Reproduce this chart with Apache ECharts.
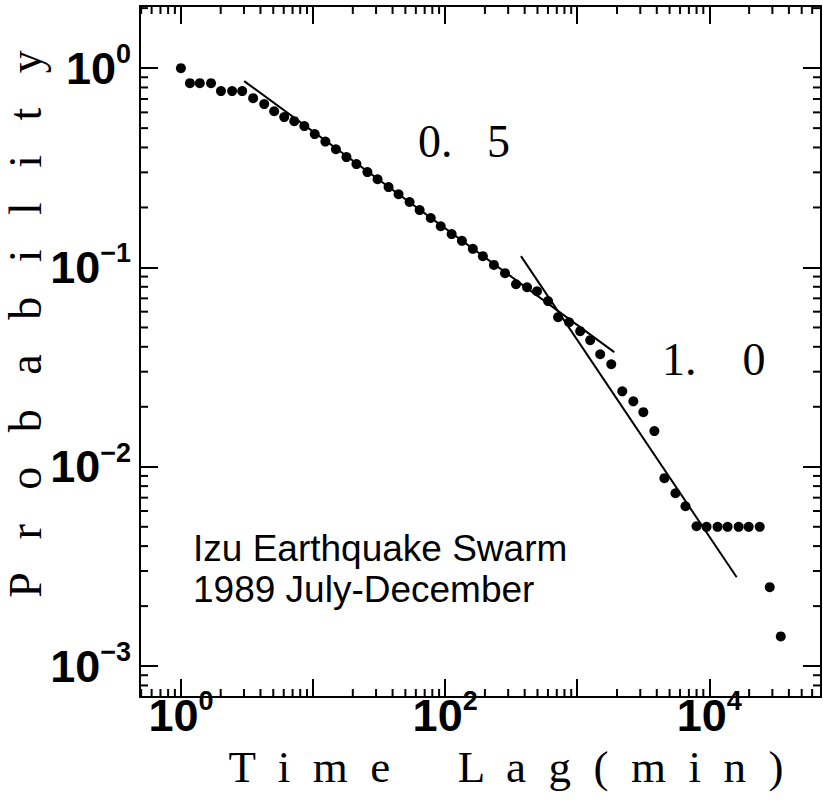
<!DOCTYPE html>
<html><head><meta charset="utf-8">
<script src="https://cdn.jsdelivr.net/npm/echarts@6/dist/echarts.min.js"></script>
<style>html,body{margin:0;padding:0;background:#fff}#c{width:823px;height:803px}</style>
</head><body><div id="c"></div>
<script>
// ---- data ----
const timeLag = [1, 1.17, 1.39, 1.69, 2.01, 2.44, 2.91, 3.52, 4.27, 5.08, 6.05, 7.21, 8.59,
  10.3, 12.4, 14.9, 17.9, 21.3, 25.8, 30.8, 37.3, 44.4, 53.8, 64.1, 77.8, 92.6, 112, 134, 162, 193, 234,
  284, 344, 417, 496, 601, 716, 868, 1052, 1253, 1492, 1809, 2193, 2658, 3165, 3836,
  4568, 5538, 6596, 7993, 9522, 11543, 13748, 16664, 19846, 24058, 28650, 34720];
const probability = [1.0, 0.841, 0.841, 0.841, 0.767, 0.767, 0.767, 0.707, 0.660, 0.608, 0.568, 0.542, 0.512,
  0.467, 0.428, 0.392, 0.358, 0.330, 0.301, 0.277, 0.253, 0.233, 0.213, 0.194, 0.177, 0.161, 0.147, 0.136, 0.124, 0.114, 0.103,
  0.0936, 0.0824, 0.0796, 0.0760, 0.0678, 0.0563, 0.0531, 0.0479, 0.0432, 0.0367, 0.0327, 0.0239, 0.0213, 0.0188, 0.0151,
  0.00877, 0.00737, 0.00634, 0.00503, 0.005, 0.005, 0.005, 0.005, 0.005, 0.005, 0.00249, 0.00141];
const fitHalfT = [3.01, 1905];
const fitHalfP = [0.861, 0.0376];
const fitOneT = [375, 16100];
const fitOneP = [0.114, 0.00279];
const xLabelExponents = [0, 2, 4];
const yLabelExponents = [0, -1, -2, -3];
const slopeLabels = ['0.   5', '1.    0'];
const xName = 'T  i  m  e      L  a  g  (  m  i  n  )';
const yName = 'P   r   o   b   a   b   i   l   i   t   y';
const noteLines = ['Izu Earthquake Swarm', '1989 July-December'];

// ---- layout ----
const X_MIN = 0.49, X_MAX = 70000, Y_MIN = 7e-4, Y_MAX = 2.05;
const MAJOR = 18, MINOR = 8;
const SANS = 'Liberation Sans', SERIF = 'Liberation Serif';

function minorValues(lo, hi) {
  const out = [];
  for (let n = Math.floor(Math.log10(lo)); n <= Math.ceil(Math.log10(hi)); n++) {
    for (let k = 2; k <= 9; k++) {
      const v = k * Math.pow(10, n);
      if (v > lo && v < hi) out.push(v);
    }
  }
  return out;
}
function powLabel(v, allowed) {
  const e = Math.log10(v), r = Math.round(e);
  if (Math.abs(e - r) > 1e-6 || allowed.indexOf(r) < 0) return '';
  return '{b|10}{s|' + (r < 0 ? '\u2212' + (-r) : r) + '}';
}
const rich = {
  b: { fontFamily: SANS, fontSize: 45, fontWeight: 'bold', color: '#000', lineHeight: 36 },
  s: { fontFamily: SANS, fontSize: 27, fontWeight: 'bold', color: '#000', lineHeight: 22, padding: [0, 0, 28, 0] }
};
const lineBlack = { color: '#000', width: 2 };

function axisX(pos, labels) {
  return {
    type: 'log', logBase: 10, min: X_MIN, max: X_MAX, position: pos,
    axisLine: { show: true, onZero: false, lineStyle: lineBlack },
    axisTick: { show: true, inside: true, length: MAJOR, lineStyle: lineBlack },
    minorTick: { show: false }, splitLine: { show: false },
    axisLabel: labels ? {
      show: true, margin: 0, showMinLabel: false, showMaxLabel: false,
      formatter: v => powLabel(v, xLabelExponents), rich: rich
    } : { show: false }
  };
}
function axisY(pos, labels) {
  return {
    type: 'log', logBase: 10, min: Y_MIN, max: Y_MAX, position: pos,
    axisLine: { show: true, onZero: false, lineStyle: lineBlack },
    axisTick: { show: true, inside: true, length: MAJOR, lineStyle: lineBlack },
    minorTick: { show: false }, splitLine: { show: false },
    axisLabel: labels ? {
      show: true, margin: 9, showMinLabel: false, showMaxLabel: false,
      formatter: v => powLabel(v, yLabelExponents), rich: rich
    } : { show: false }
  };
}

const chart = echarts.init(document.getElementById('c'), null, { renderer: 'svg' });
const option = {
  backgroundColor: '#fff',
  animation: false,
  grid: { left: 140, right: 2, top: 6, bottom: 106, containLabel: false },
  xAxis: [axisX('bottom', true), axisX('top', false)],
  yAxis: [axisY('left', true), axisY('right', false)],
  series: [
    {
      type: 'custom', xAxisIndex: 0, yAxisIndex: 0, clip: false, silent: true,
      data: minorValues(X_MIN, X_MAX).map(v => [v, 1]),
      renderItem: (params, api) => {
        const v = api.value(0);
        const b = api.coord([v, Y_MIN]), t = api.coord([v, Y_MAX]);
        return { type: 'group', children: [
          { type: 'line', shape: { x1: b[0], y1: b[1], x2: b[0], y2: b[1] - MINOR }, style: { stroke: '#000', lineWidth: 2 } },
          { type: 'line', shape: { x1: t[0], y1: t[1], x2: t[0], y2: t[1] + MINOR }, style: { stroke: '#000', lineWidth: 2 } }
        ] };
      }
    },
    {
      type: 'custom', xAxisIndex: 0, yAxisIndex: 0, clip: false, silent: true,
      data: minorValues(Y_MIN, Y_MAX).map(v => [1, v]),
      renderItem: (params, api) => {
        const v = api.value(1);
        const l = api.coord([X_MIN, v]), r = api.coord([X_MAX, v]);
        return { type: 'group', children: [
          { type: 'line', shape: { x1: l[0], y1: l[1], x2: l[0] + MINOR, y2: l[1] }, style: { stroke: '#000', lineWidth: 2 } },
          { type: 'line', shape: { x1: r[0], y1: r[1], x2: r[0] - MINOR, y2: r[1] }, style: { stroke: '#000', lineWidth: 2 } }
        ] };
      }
    },
    {
      type: 'line', xAxisIndex: 0, yAxisIndex: 0, symbol: 'none',
      lineStyle: { color: '#000', width: 2 },
      data: fitHalfT.map((t, i) => [t, fitHalfP[i]])
    },
    {
      type: 'line', xAxisIndex: 0, yAxisIndex: 0, symbol: 'none',
      lineStyle: { color: '#000', width: 2 },
      data: fitOneT.map((t, i) => [t, fitOneP[i]])
    },
    {
      type: 'scatter', xAxisIndex: 0, yAxisIndex: 0, symbol: 'circle', symbolSize: 10,
      itemStyle: { color: '#000', opacity: 1 },
      data: timeLag.map((t, i) => [t, probability[i]])
    }
  ],
  graphic: [
    { type: 'text', left: 418, top: 118, style: { text: slopeLabels[0], fontFamily: SERIF, fontSize: 46, fill: '#000' } },
    { type: 'text', left: 662, top: 336, style: { text: slopeLabels[1], fontFamily: SERIF, fontSize: 46, fill: '#000' } },
    { type: 'text', left: 193, top: 530, style: { text: noteLines[0], fontFamily: SANS, fontSize: 37, fill: '#000' } },
    { type: 'text', left: 193, top: 571, style: { text: noteLines[1], fontFamily: SANS, fontSize: 37, fill: '#000' } },
    { type: 'text', x: 506, y: 767, style: { text: xName, fontFamily: SERIF, fontSize: 45, lineHeight: 36, fill: '#000', align: 'center', verticalAlign: 'middle' } },
    { type: 'text', x: 25, y: 324, rotation: Math.PI / 2, style: { text: yName, fontFamily: SERIF, fontSize: 46, fill: '#000', align: 'center', verticalAlign: 'middle' } }
  ]
};
chart.setOption(option);
</script>
</body></html>
